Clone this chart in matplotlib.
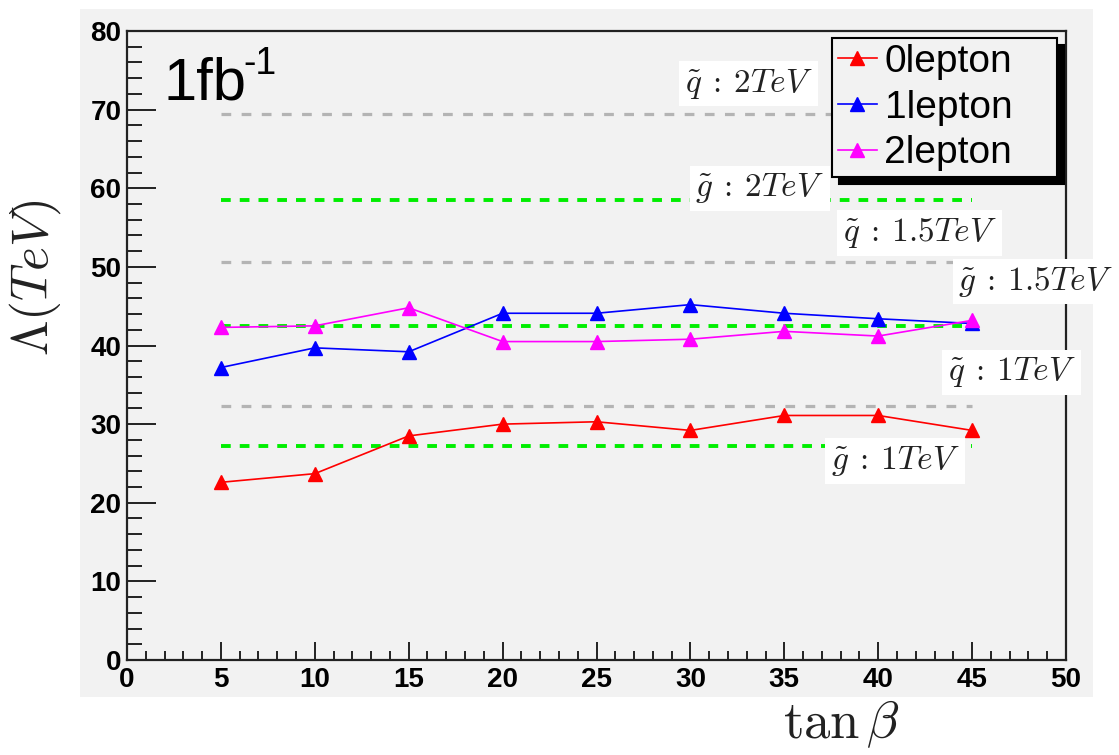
import matplotlib
matplotlib.use('Agg')
import matplotlib.pyplot as plt
from matplotlib.patches import Rectangle
from matplotlib.ticker import MultipleLocator

plt.rcParams['mathtext.fontset'] = 'cm'
plt.rcParams['lines.scale_dashes'] = False

# data
tanb = [5, 10, 15, 20, 25, 30, 35, 40, 45]
lep0 = [22.6, 23.7, 28.5, 30.0, 30.3, 29.2, 31.1, 31.1, 29.2]
lep1 = [37.2, 39.7, 39.2, 44.1, 44.1, 45.2, 44.1, 43.4, 42.8]
lep2 = [42.3, 42.5, 44.8, 40.5, 40.5, 40.8, 41.8, 41.2, 43.2]
series = [('0lepton', lep0, '#ff0000'), ('1lepton', lep1, '#0000ff'), ('2lepton', lep2, '#ff00ff')]

# reference mass lines: (label, value, kind, label x, label y)
ref_x = [5, 45]
ref_lines = [
    (r'$\tilde{q}\::\:2 TeV$', 69.5, 'q', 33.1, 73.3),
    (r'$\tilde{g}\::\:2 TeV$', 58.5, 'g', 33.7, 60.0),
    (r'$\tilde{q}\::\:1.5 TeV$', 50.6, 'q', 42.2, 54.3),
    (r'$\tilde{g}\::\:1.5 TeV$', 42.5, 'g', 48.4, 48.1),
    (r'$\tilde{q}\::\:1 TeV$', 32.3, 'q', 47.1, 36.6),
    (r'$\tilde{g}\::\:1 TeV$', 27.2, 'g', 40.9, 25.3),
]

W, H = 1119, 755
fig = plt.figure(figsize=(W / 100, H / 100), dpi=100)
fig.patch.set_facecolor('white')
panel = Rectangle((80 / W, 1 - 697 / H), (1093 - 80) / W, (697 - 9) / H,
                  transform=fig.transFigure, facecolor='#f2f2f2',
                  edgecolor='none', zorder=-5)
fig.add_artist(panel)

ax = fig.add_axes([127 / W, 1 - 660 / H, (1066 - 127) / W, (660 - 31) / H])
ax.set_facecolor('#f2f2f2')

for lab, val, kind, tx, ty in ref_lines:
    if kind == 'q':
        ax.plot(ref_x, [val, val], color='#b4b4b4', lw=2.3,
                linestyle=(0, (7, 7.5)), zorder=2)
    else:
        ax.plot(ref_x, [val, val], color='#00ee00', lw=2.8,
                linestyle=(0, (7, 6.5)), zorder=2)
    ax.text(tx, ty, lab, fontsize=24, ha='center', va='center', color='#222222',
            bbox=dict(facecolor='white', edgecolor='none', pad=4), zorder=3,
            clip_on=False)

for name, vals, c in series:
    ax.plot(tanb, vals, color=c, lw=1.2, marker='^', markersize=10,
            markeredgecolor=c, label=name, zorder=4)

ax.set_xlim(0, 50)
ax.set_ylim(0, 80)
ax.xaxis.set_major_locator(MultipleLocator(5))
ax.xaxis.set_minor_locator(MultipleLocator(1))
ax.yaxis.set_major_locator(MultipleLocator(10))
ax.yaxis.set_minor_locator(MultipleLocator(2))
ax.tick_params(axis='both', which='both', direction='in', color='#222222',
               width=1.4, top=False, right=False)
ax.tick_params(axis='x', which='major', length=13, pad=5)
ax.tick_params(axis='x', which='minor', length=6.5)
ax.tick_params(axis='y', which='major', length=21, pad=4)
ax.tick_params(axis='y', which='minor', length=11)
for lbl in ax.get_xticklabels() + ax.get_yticklabels():
    lbl.set_fontfamily('Liberation Sans')
    lbl.set_fontweight('bold')
    lbl.set_fontsize(20)
for sp in ax.spines.values():
    sp.set_linewidth(1.6)
    sp.set_color('#222222')

leg = ax.legend(loc='upper left', bbox_to_anchor=(832 / W, 1 - 188 / H, 225 / W, 150 / H),
                bbox_transform=fig.transFigure, borderaxespad=0, mode='expand',
                prop={'family': 'Liberation Sans', 'size': 28},
                fancybox=False, framealpha=1, facecolor='#f2f2f2',
                edgecolor='black', handlelength=1.0, handletextpad=0.2,
                labelspacing=0.25, borderpad=0.15,
                shadow={'color': 'black', 'alpha': 1, 'ox': 5, 'oy': -5})
leg.get_frame().set_linewidth(1.5)
leg.set_zorder(10)

fig.text(163 / W, 1 - 100 / H, '1fb', fontsize=43, family='Liberation Sans',
         ha='left', va='baseline')
fig.text(243 / W, 1 - 46 / H, '-1', fontsize=27, family='Liberation Sans',
         ha='left', va='top')

fig.text(35 / W, 1 - 278 / H, r'$\Lambda(TeV)$', fontsize=37, rotation=90,
         ha='center', va='center', color='#222222')
fig.text(842 / W, 1 - 724 / H, r'$\tan\beta$', fontsize=38,
         ha='center', va='center', color='#222222')

fig.savefig('out.png', dpi=100)
